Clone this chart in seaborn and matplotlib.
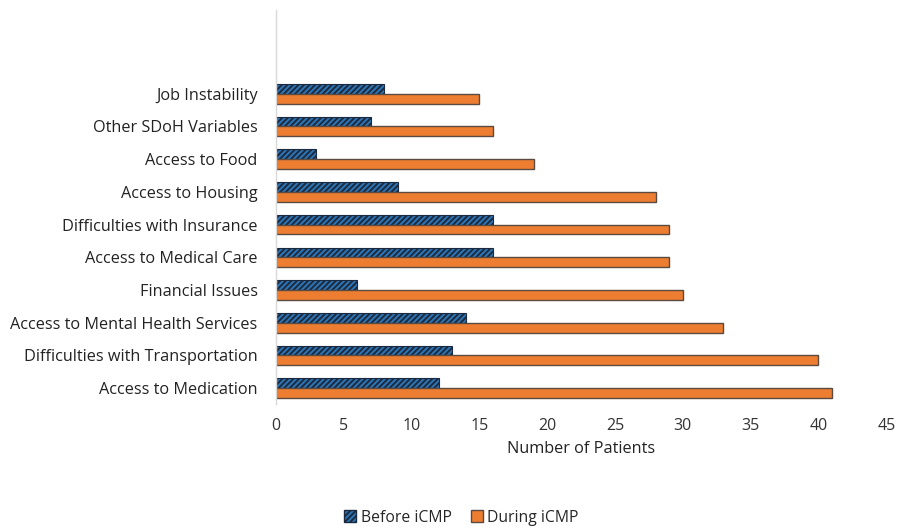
import matplotlib
matplotlib.use("Agg")
import matplotlib.pyplot as plt
from matplotlib.patches import Patch
import seaborn as sns
import pandas as pd

categories = ["Job Instability", "Other SDoH Variables", "Access to Food",
              "Access to Housing", "Difficulties with Insurance", "Access to Medical Care",
              "Financial Issues", "Access to Mental Health Services",
              "Difficulties with Transportation", "Access to Medication"]
before = [8, 7, 3, 9, 16, 16, 6, 14, 13, 12]
during = [15, 16, 19, 28, 29, 29, 30, 33, 40, 41]
series = ["Before iCMP", "During iCMP"]
xticks = [0, 5, 10, 15, 20, 25, 30, 35, 40, 45]

df = pd.DataFrame({
    "cat": categories * 2,
    "val": before + during,
    "series": [series[0]] * len(categories) + [series[1]] * len(categories),
})

sns.set_theme(style="white")
plt.rcParams["font.family"] = ["Open Sans", "DejaVu Sans"]
plt.rcParams["hatch.linewidth"] = 1.4

blue = "#2e75b6"
orange = "#ed7d31"

fig = plt.figure(figsize=(8.98, 5.27), dpi=100)
ax = fig.add_axes([0.307, 0.233, 0.68, 0.748])
sns.barplot(data=df, x="val", y="cat", hue="series", hue_order=series,
            order=categories, palette=[blue, orange], width=0.6,
            orient="h", ax=ax, legend=False, saturation=1)

n = len(categories)
for i, p in enumerate(ax.patches):
    if i < n:
        p.set_hatch("//////")
        p.set_edgecolor("#1b2a3f")
        p.set_linewidth(0.8)
    else:
        p.set_edgecolor("#5a4a40")
        p.set_linewidth(1.0)

ax.set_ylim(9.49, -2.56)
ax.set_xlim(0, 45)
ax.set_xticks(xticks)
ax.set_xticklabels([str(t) for t in xticks], fontsize=11.5, color="#333333")
ax.tick_params(axis="y", labelsize=11.7, labelcolor="#222222", length=0, pad=13)
ax.tick_params(axis="x", length=0, pad=10)
ax.set_ylabel("")
ax.set_xlabel("Number of Patients", fontsize=11.7, color="#222222", labelpad=5)
for s in ["top", "right", "bottom"]:
    ax.spines[s].set_visible(False)
ax.spines["left"].set_color("#d9d9d9")
ax.spines["left"].set_linewidth(1)

handles = [Patch(facecolor=blue, edgecolor="#1b2a3f", hatch="//////", label=series[0]),
           Patch(facecolor=orange, edgecolor="#5a4a40", label=series[1])]
fig.legend(handles=handles, loc="center", bbox_to_anchor=(0.514, 0.018), ncol=2,
           frameon=False, fontsize=11.3, handlelength=0.75, handleheight=0.75,
           handletextpad=0.3, columnspacing=1.2)

fig.savefig("out.png", dpi=100, facecolor="white")
